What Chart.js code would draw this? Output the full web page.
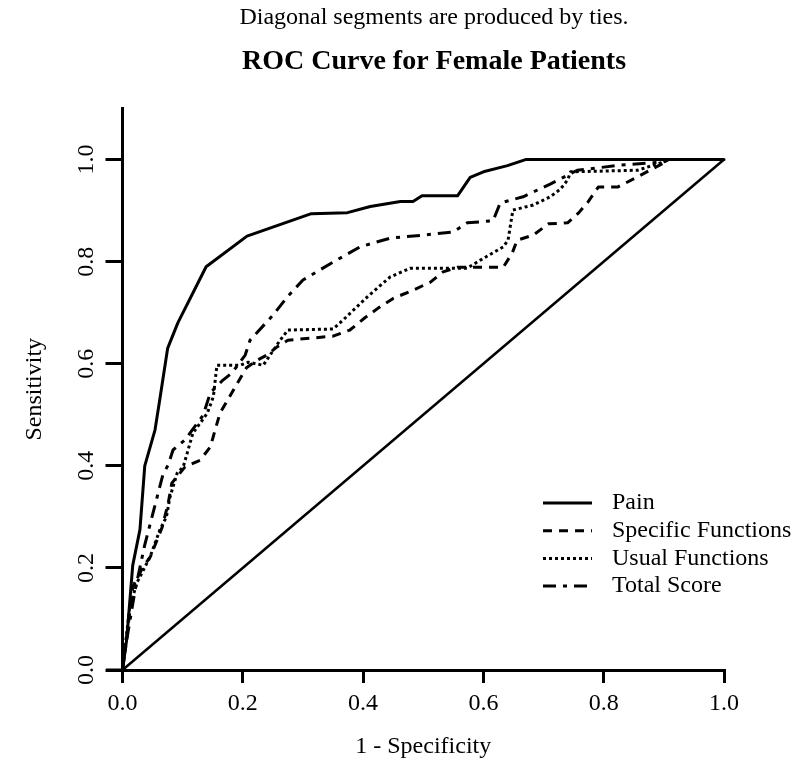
<!DOCTYPE html>
<html><head><meta charset="utf-8">
<script src="https://cdn.jsdelivr.net/npm/chart.js@4/dist/chart.umd.min.js"></script>
<style>html,body{margin:0;padding:0;background:#fff}#wrap{width:801px;height:761px;position:relative}</style>
</head><body><div id="wrap"><canvas id="c" width="801" height="761"></canvas></div>
<script>
const subtitleText = 'Diagonal segments are produced by ties.';
const titleText = 'ROC Curve for Female Patients';
const xAxisTitle = '1 - Specificity';
const yAxisTitle = 'Sensitivity';
const seriesNames = ['Pain', 'Specific Functions', 'Usual Functions', 'Total Score'];
const xTickValues = [0, 0.2, 0.4, 0.6, 0.8, 1.0];
const xTickLabels = ['0.0', '0.2', '0.4', '0.6', '0.8', '1.0'];
const yTickValues = [0, 0.2, 0.4, 0.6, 0.8, 1.0];
const yTickLabels = ['0.0', '0.2', '0.4', '0.6', '0.8', '1.0'];

const painX = [0, 0.007, 0.017, 0.029, 0.037, 0.054, 0.062, 0.075, 0.092, 0.139, 0.207, 0.314, 0.374, 0.412, 0.462, 0.483, 0.498, 0.557, 0.578, 0.600, 0.640, 0.670, 1.0];
const painY = [0, 0.06, 0.205, 0.275, 0.40, 0.47, 0.53, 0.63, 0.68, 0.79, 0.85, 0.894, 0.896, 0.908, 0.918, 0.918, 0.929, 0.929, 0.965, 0.976, 0.988, 1.0, 1.0];

const specX = [0, 0.012, 0.017, 0.034, 0.046, 0.066, 0.076, 0.082, 0.104, 0.129, 0.146, 0.154, 0.162, 0.175, 0.191, 0.206, 0.224, 0.240, 0.257, 0.275, 0.350, 0.378, 0.403, 0.425, 0.450, 0.483, 0.512, 0.533, 0.557, 0.633, 0.648, 0.656, 0.683, 0.708, 0.740, 0.758, 0.774, 0.791, 0.823, 0.853, 0.899, 0.908, 1.0];
const specY = [0, 0.112, 0.163, 0.202, 0.221, 0.280, 0.327, 0.366, 0.398, 0.411, 0.437, 0.470, 0.503, 0.529, 0.562, 0.592, 0.607, 0.617, 0.633, 0.646, 0.654, 0.666, 0.690, 0.709, 0.728, 0.744, 0.760, 0.780, 0.789, 0.789, 0.817, 0.842, 0.852, 0.874, 0.876, 0.895, 0.917, 0.946, 0.946, 0.964, 0.993, 1.0, 1.0];

const usualX = [0, 0.012, 0.024, 0.046, 0.062, 0.073, 0.079, 0.091, 0.101, 0.117, 0.141, 0.151, 0.157, 0.196, 0.209, 0.234, 0.262, 0.275, 0.350, 0.367, 0.407, 0.445, 0.478, 0.573, 0.595, 0.633, 0.641, 0.649, 0.683, 0.711, 0.728, 0.740, 0.745, 0.856, 0.883, 0.899, 0.908, 1.0];
const usualY = [0, 0.123, 0.171, 0.222, 0.274, 0.300, 0.339, 0.386, 0.398, 0.464, 0.503, 0.535, 0.597, 0.597, 0.603, 0.597, 0.646, 0.666, 0.668, 0.686, 0.731, 0.770, 0.787, 0.787, 0.803, 0.829, 0.842, 0.901, 0.911, 0.927, 0.942, 0.960, 0.976, 0.979, 0.989, 0.995, 1.0, 1.0];

const totalX = [0, 0.007, 0.021, 0.037, 0.067, 0.076, 0.084, 0.104, 0.134, 0.146, 0.167, 0.182, 0.204, 0.212, 0.250, 0.274, 0.300, 0.350, 0.395, 0.445, 0.500, 0.550, 0.573, 0.616, 0.628, 0.666, 0.711, 0.756, 0.828, 0.899, 0.908, 1.0];
const totalY = [0, 0.059, 0.157, 0.245, 0.382, 0.402, 0.431, 0.451, 0.499, 0.543, 0.568, 0.582, 0.617, 0.646, 0.695, 0.731, 0.764, 0.799, 0.829, 0.846, 0.852, 0.858, 0.876, 0.880, 0.915, 0.927, 0.952, 0.979, 0.989, 0.995, 1.0, 1.0];

const diagX = [0, 1];
const diagY = [0, 1];

const pts = (xs, ys) => xs.map((x, i) => ({x: x, y: ys[i]}));
const serif = "'Liberation Serif', 'Times New Roman', serif";

const common = {borderColor: '#000', pointRadius: 0, pointHoverRadius: 0, tension: 0, fill: false, borderWidth: 3, clip: false};
const datasets = [
  Object.assign({label: seriesNames[0], data: pts(painX, painY), borderDash: [], borderCapStyle: 'round', borderJoinStyle: 'round'}, common),
  Object.assign({label: seriesNames[1], data: pts(specX, specY), borderDash: [9, 7], borderCapStyle: 'butt', borderJoinStyle: 'round'}, common),
  Object.assign({label: seriesNames[2], data: pts(usualX, usualY), borderDash: [3, 3], borderCapStyle: 'butt', borderJoinStyle: 'round'}, common),
  Object.assign({label: seriesNames[3], data: pts(totalX, totalY), borderDash: [13, 7, 4, 7], borderCapStyle: 'butt', borderJoinStyle: 'round'}, common),
  Object.assign({label: '', data: pts(diagX, diagY), borderDash: []}, common, {borderWidth: 2.5})
];

const headerPlugin = {
  id: 'header',
  afterDraw(chart) {
    const ctx = chart.ctx;
    ctx.save();
    ctx.fillStyle = '#000';
    ctx.textAlign = 'center';
    ctx.textBaseline = 'middle';
    ctx.font = '24px ' + serif;
    ctx.fillText(subtitleText, 434, 18);
    ctx.font = 'bold 28px ' + serif;
    ctx.fillText(titleText, 434, 62);
    // x-axis line extends slightly left of the origin (R style)
    const a = chart.chartArea;
    ctx.strokeStyle = '#000';
    ctx.lineWidth = 3;
    ctx.beginPath();
    ctx.moveTo(a.left - 16.5, a.bottom);
    ctx.lineTo(a.left, a.bottom);
    ctx.stroke();
    ctx.restore();
  }
};

const legendPlugin = {
  id: 'rlegend',
  afterDraw(chart) {
    const ctx = chart.ctx;
    ctx.save();
    ctx.fillStyle = '#000';
    ctx.strokeStyle = '#000';
    ctx.font = '24px ' + serif;
    ctx.textAlign = 'left';
    ctx.textBaseline = 'middle';
    for (let i = 0; i < seriesNames.length; i++) {
      const ds = chart.data.datasets[i];
      const y = 503 + i * 27.7;
      ctx.setLineDash(ds.borderDash || []);
      ctx.lineWidth = ds.borderWidth;
      ctx.lineCap = 'butt';
      ctx.beginPath();
      ctx.moveTo(543, y);
      ctx.lineTo(592, y);
      ctx.stroke();
      ctx.setLineDash([]);
      ctx.fillText(seriesNames[i], 612, y);
    }
    ctx.restore();
  }
};

new Chart(document.getElementById('c'), {
  type: 'line',
  data: {datasets: datasets},
  plugins: [headerPlugin, legendPlugin],
  options: {
    responsive: false,
    animation: false,
    layout: {padding: {top: 108.5, right: 77, bottom: 0, left: 0}},
    plugins: {legend: {display: false}, title: {display: false}, tooltip: {enabled: false}},
    scales: {
      x: {
        type: 'linear', min: 0, max: 1,
        afterBuildTicks: s => { s.ticks = xTickValues.map(v => ({value: v})); },
        afterFit: s => { s.height = 91; },
        ticks: {callback: (v, i) => xTickLabels[i], autoSkip: false, maxRotation: 0, minRotation: 0, color: '#000', padding: 6, font: {family: serif, size: 24}},
        grid: {drawOnChartArea: false, drawTicks: true, tickLength: 13, color: '#000', lineWidth: 3},
        border: {display: true, color: '#000', width: 3},
        title: {display: true, text: xAxisTitle, color: '#000', font: {family: serif, size: 24}, padding: {top: 0, bottom: 0}}
      },
      y: {
        type: 'linear', min: 0, max: 1.1,
        afterBuildTicks: s => { s.ticks = yTickValues.map(v => ({value: v})); },
        afterFit: s => { s.width = 122.5; },
        ticks: {callback: (v, i) => yTickLabels[i], autoSkip: false, minRotation: 90, maxRotation: 90, crossAlign: 'center', color: '#000', padding: 4, font: {family: serif, size: 24}},
        grid: {drawOnChartArea: false, drawTicks: true, tickLength: 17, color: '#000', lineWidth: 3},
        border: {display: true, color: '#000', width: 3},
        title: {display: true, text: yAxisTitle, color: '#000', font: {family: serif, size: 24}, padding: {top: 20, bottom: 0}}
      }
    }
  }
});
</script>
</body></html>
